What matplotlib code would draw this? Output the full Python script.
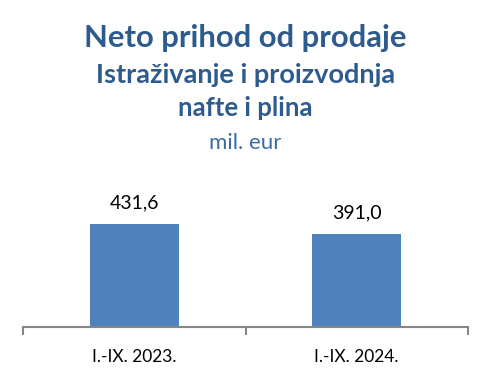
import matplotlib.pyplot as plt

# Data
categories = ['I.-IX. 2023.', 'I.-IX. 2024.']
values = [431.6, 391.0]
value_labels = ['431,6', '391,0']

plt.rcParams['font.family'] = ['Lato', 'DejaVu Sans']

fig = plt.figure(figsize=(4.91, 3.80), dpi=100)
ax = fig.add_axes([23 / 491, 53 / 380, 445 / 491, 177 / 380])

x = range(len(categories))
ax.bar(x, values, width=0.4, color='#4F81BD')

for xi, v, lab in zip(x, values, value_labels):
    ax.annotate(lab, (xi, v), xytext=(0, 15), textcoords='offset points',
                ha='center', va='center', fontsize=14, color='#000000')

ax.set_xlim(-0.5, 1.5)
ax.set_ylim(0, 741)

# Only the bottom axis line with ticks between categories
for side in ['top', 'right', 'left']:
    ax.spines[side].set_visible(False)
ax.spines['bottom'].set_color('#868686')
ax.spines['bottom'].set_linewidth(1.5)
ax.set_yticks([])
ax.set_xticks([-0.5, 0.5, 1.5])
ax.set_xticklabels([])
ax.tick_params(axis='x', length=6, width=1.5, color='#868686')
ax.set_xticks(list(x), minor=True)
ax.set_xticklabels(categories, minor=True, fontsize=12.5)
ax.tick_params(axis='x', which='minor', length=0, pad=16)

# Titles
title_color = '#2E5B8E'
fig.text(0.5, 1 - 38 / 380, 'Neto prihod od prodaje', ha='center', va='center',
         fontsize=22.3, fontweight='bold', color=title_color)
fig.text(0.5, 1 - 75 / 380, 'Istraživanje i proizvodnja', ha='center', va='center',
         fontsize=19.5, fontweight='bold', color=title_color)
fig.text(0.5, 1 - 108 / 380, 'nafte i plina', ha='center', va='center',
         fontsize=18.5, fontweight='bold', color=title_color)
fig.text(0.5, 1 - 143 / 380, 'mil. eur', ha='center', va='center',
         fontsize=16, color='#3A6CA8')

fig.savefig('out.png', dpi=100)
